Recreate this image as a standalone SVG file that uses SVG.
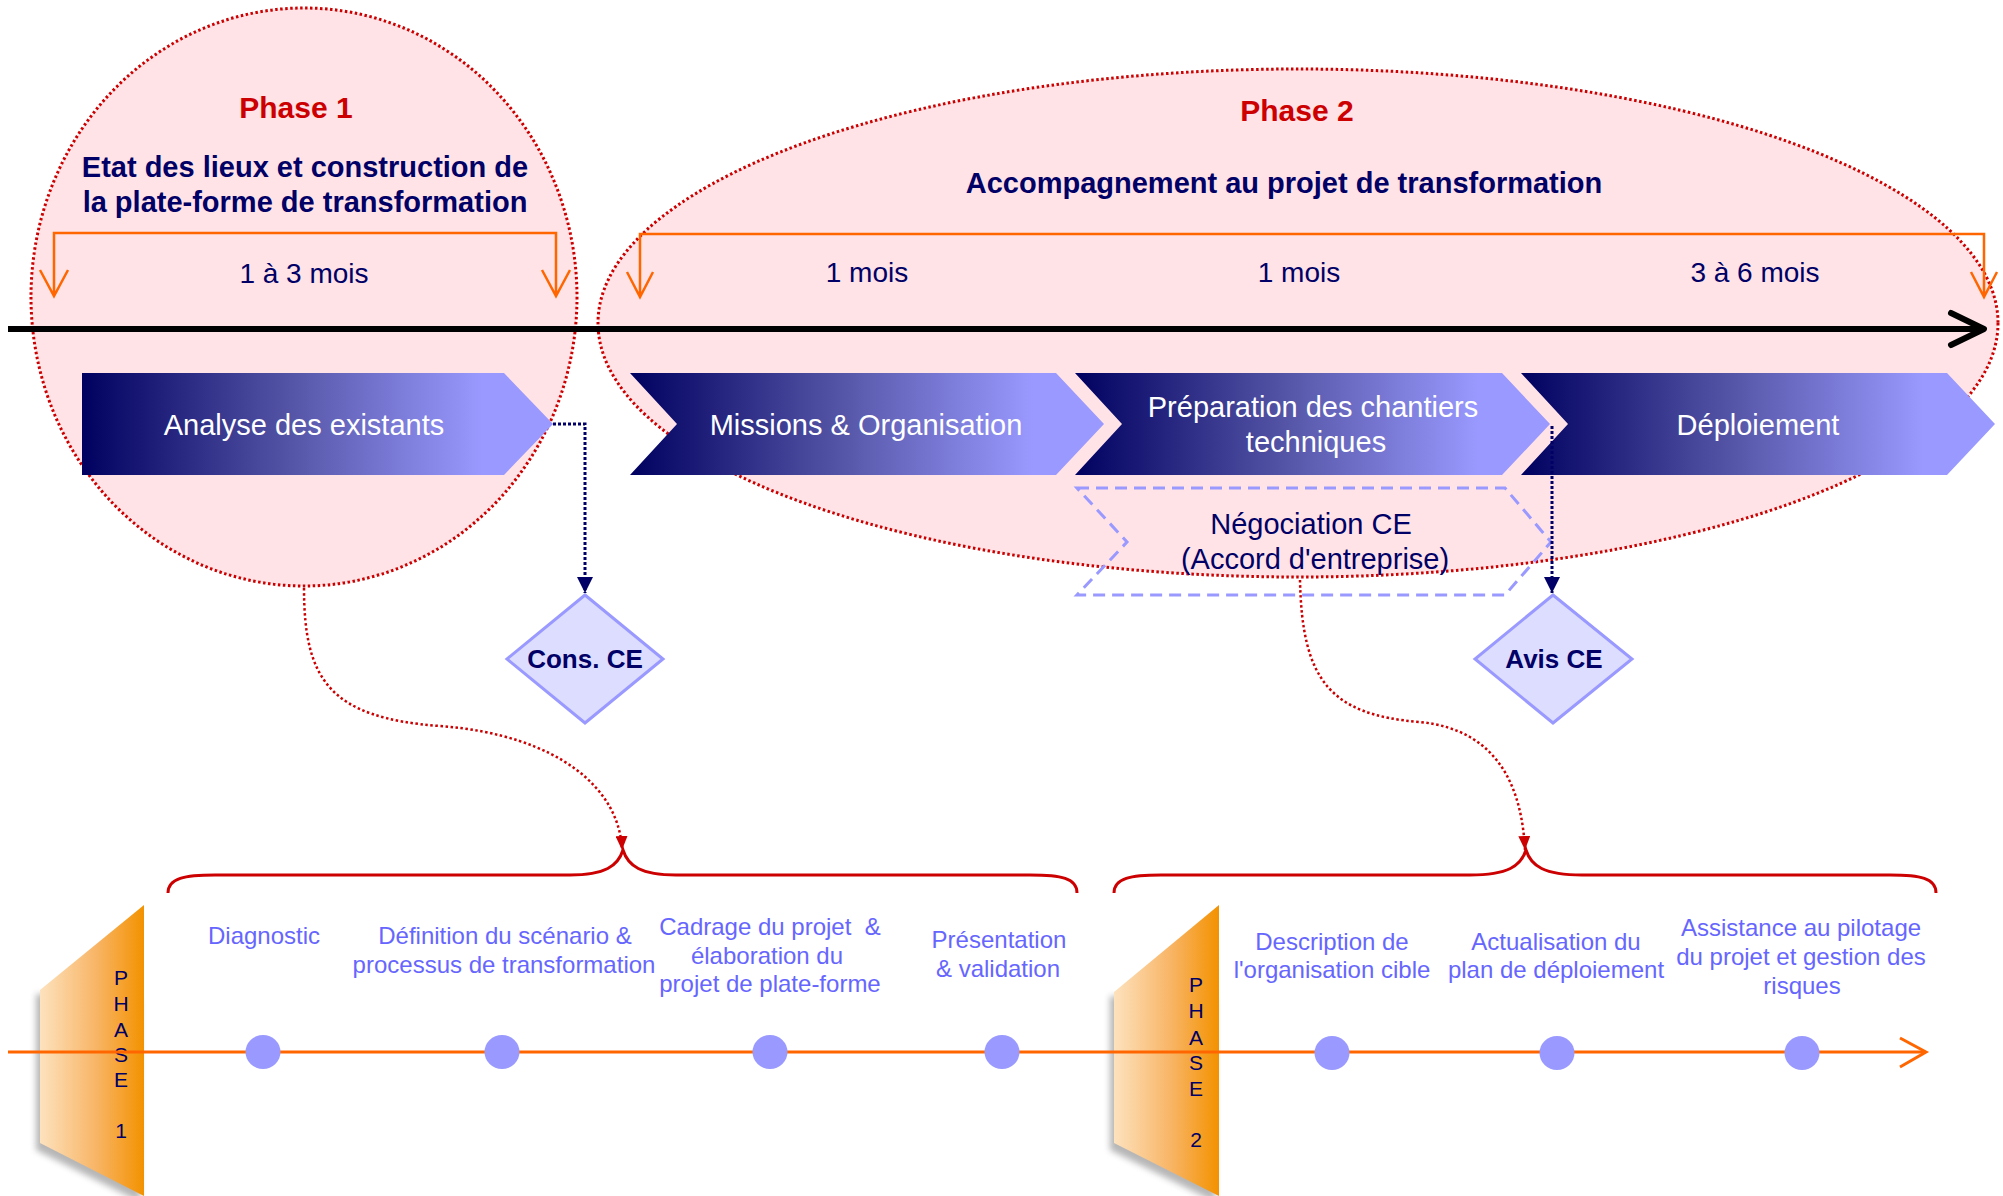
<svg xmlns="http://www.w3.org/2000/svg" width="2003" height="1196" viewBox="0 0 2003 1196">
  <defs>
    <style>
      .phase-zone { fill: #FFE3E6; stroke: #CC0000; stroke-width: 3; stroke-dasharray: 2.5 2.5; }
      .title-red { font-family: "Liberation Sans", Arial, sans-serif; font-weight: bold; font-size: 30px; fill: #CC0000; text-anchor: middle; }
      .title-navy { font-family: "Liberation Sans", Arial, sans-serif; font-weight: bold; font-size: 29px; fill: #000066; text-anchor: middle; }
      .duration { font-family: "Liberation Sans", Arial, sans-serif; font-size: 28px; fill: #000066; text-anchor: middle; }
      .bracket { fill: none; stroke: #FF6600; stroke-width: 2.5; }
      .step { fill: url(#stepGrad); }
      .step-label { font-family: "Liberation Sans", Arial, sans-serif; font-size: 29px; fill: #FFFFFF; text-anchor: middle; }
      .nego { fill: none; stroke: #9999FF; stroke-width: 3; stroke-dasharray: 12 7; }
      .nego-label { font-family: "Liberation Sans", Arial, sans-serif; font-size: 29px; fill: #000066; text-anchor: middle; }
      .decision { fill: #DDDDFF; stroke: #9999FF; stroke-width: 3; }
      .decision-label { font-family: "Liberation Sans", Arial, sans-serif; font-weight: bold; font-size: 26px; fill: #000066; text-anchor: middle; }
      .link-navy { fill: none; stroke: #000066; stroke-width: 3; stroke-dasharray: 3 2; }
      .link-red { fill: none; stroke: #CC0000; stroke-width: 2.5; stroke-dasharray: 2.5 2.5; }
      .brace { fill: none; stroke: #CC0000; stroke-width: 3; }
      .block { fill: url(#blockGrad); }
      .block-letter { font-family: "Liberation Sans", Arial, sans-serif; font-size: 21px; fill: #000066; text-anchor: middle; }
      .milestone { fill: #9999FF; }
      .milestone-label { font-family: "Liberation Sans", Arial, sans-serif; font-size: 24px; fill: #6666FF; text-anchor: middle; }
    </style>
    <linearGradient id="stepGrad" x1="0" y1="0" x2="1" y2="0">
      <stop offset="0" stop-color="#000060"/>
      <stop offset="0.45" stop-color="#5656A8"/>
      <stop offset="0.85" stop-color="#9999FF"/>
      <stop offset="1" stop-color="#9999FF"/>
    </linearGradient>
    <linearGradient id="blockGrad" x1="0" y1="0" x2="1" y2="0">
      <stop offset="0" stop-color="#FDE2BE"/>
      <stop offset="0.55" stop-color="#F8B464"/>
      <stop offset="1" stop-color="#F39200"/>
    </linearGradient>
    <filter id="softShadow" x="-20%" y="-20%" width="140%" height="140%">
      <feGaussianBlur stdDeviation="3"/>
    </filter>
    <marker id="navyHead" markerUnits="userSpaceOnUse" markerWidth="16" markerHeight="16" viewBox="0 0 16 16" refX="16" refY="8" orient="auto">
      <path d="M0,0 L16,8 L0,16 Z" fill="#000066"/>
    </marker>
    <marker id="redHead" markerUnits="userSpaceOnUse" markerWidth="14" markerHeight="12" viewBox="0 0 14 12" refX="14" refY="6" orient="auto">
      <path d="M0,0 L14,6 L0,12 Z" fill="#CC0000"/>
    </marker>
  </defs>

  <!-- phase zones -->
  <g id="phase1-zone">
    <ellipse class="phase-zone" cx="304" cy="297" rx="273" ry="289"/>
  </g>
  <g id="phase2-zone">
    <ellipse class="phase-zone" cx="1298" cy="323" rx="700" ry="254"/>
  </g>

  <!-- phase headings and durations -->
  <g id="phase1-heading">
    <text class="title-red" x="296" y="118">Phase 1</text>
    <text class="title-navy" x="305" y="177">Etat des lieux et construction de</text>
    <text class="title-navy" x="305" y="212">la plate-forme de transformation</text>
    <path class="bracket" d="M54,296 V233 H556 V296 M40,270 L54,296 L68,270 M542,270 L556,296 L570,270"/>
    <text class="duration" x="304" y="283">1 à 3 mois</text>
  </g>
  <g id="phase2-heading">
    <text class="title-red" x="1297" y="121">Phase 2</text>
    <text class="title-navy" x="1284" y="193">Accompagnement au projet de transformation</text>
    <path class="bracket" d="M640,297 V234 H1984 V297 M627,272 L640,297 L653,272 M1971,272 L1984,297 L1997,272"/>
    <text class="duration" x="867" y="282">1 mois</text>
    <text class="duration" x="1299" y="282">1 mois</text>
    <text class="duration" x="1755" y="282">3 à 6 mois</text>
  </g>

  <!-- main time axis -->
  <g id="time-axis">
    <line x1="8" y1="329" x2="1982" y2="329" stroke="#000000" stroke-width="6"/>
    <polyline points="1951,313 1984,329 1951,345" fill="none" stroke="#000000" stroke-width="6" stroke-linecap="round" stroke-linejoin="round"/>
  </g>

  <!-- process steps -->
  <g id="step-analyse">
    <polygon class="step" points="82,373 504,373 553,424 504,475 82,475"/>
    <text class="step-label" x="304" y="435">Analyse des existants</text>
  </g>
  <g id="step-missions">
    <polygon class="step" points="630,373 1056,373 1104,424 1056,475 630,475 677,424"/>
    <text class="step-label" x="866" y="435">Missions &amp; Organisation</text>
  </g>
  <g id="step-preparation">
    <polygon class="step" points="1075,373 1502,373 1550,424 1502,475 1075,475 1122,424"/>
    <text class="step-label" x="1313" y="417">Préparation des chantiers</text>
    <text class="step-label" x="1316" y="452">techniques</text>
  </g>
  <g id="step-deploiement">
    <polygon class="step" points="1521,373 1947,373 1995,424 1947,475 1521,475 1568,424"/>
    <text class="step-label" x="1758" y="435">Déploiement</text>
  </g>

  <!-- negotiation step (dashed outline) -->
  <g id="step-negociation">
    <polygon class="nego" points="1077,488 1505,488 1551,542 1505,595 1077,595 1127,542"/>
    <text class="nego-label" x="1311" y="534">Négociation CE</text>
    <text class="nego-label" x="1315" y="569">(Accord d'entreprise)</text>
  </g>

  <!-- works council decisions -->
  <g id="decision-cons">
    <polygon class="decision" points="585,595 663,659 585,723 507,659"/>
    <text class="decision-label" x="585" y="668">Cons. CE</text>
  </g>
  <g id="decision-avis">
    <polygon class="decision" points="1553,595 1632,659 1553,723 1475,659"/>
    <text class="decision-label" x="1554" y="668">Avis CE</text>
  </g>

  <!-- connectors -->
  <g id="connectors">
    <path class="link-navy" d="M553,424 H585 V593" marker-end="url(#navyHead)"/>
    <path class="link-navy" d="M1552,426 V593" marker-end="url(#navyHead)"/>
    <path class="link-red" d="M304,588 C304,680 330,718 440,726 C560,735 620,790 622,850" marker-end="url(#redHead)"/>
    <path class="link-red" d="M1300,580 C1302,680 1330,715 1420,722 C1500,730 1522,790 1525,850" marker-end="url(#redHead)"/>
  </g>

  <!-- braces -->
  <g id="brace-phase1">
    <path class="brace" d="M168,893 C168,878 185,875 215,875 L570,875 C605,875 618,866 623,850 C628,866 641,875 676,875 L1030,875 C1061,875 1077,878 1077,893"/>
  </g>
  <g id="brace-phase2">
    <path class="brace" d="M1114,893 C1114,878 1131,875 1161,875 L1470,875 C1508,875 1521,866 1526,850 C1531,866 1544,875 1582,875 L1890,875 C1920,875 1936,878 1936,893"/>
  </g>

  <!-- phase blocks on the lower axis -->
  <g id="block-phase1">
    <polygon points="36,994 36,1150 140,1202 140,1000" fill="#7A7A7A" opacity="0.55" filter="url(#softShadow)"/>
    <polygon class="block" points="144,905 40,990 40,1143 144,1196"/>
    <text class="block-letter" x="121" y="985">P</text>
    <text class="block-letter" x="121" y="1011">H</text>
    <text class="block-letter" x="121" y="1037">A</text>
    <text class="block-letter" x="121" y="1062">S</text>
    <text class="block-letter" x="121" y="1087">E</text>
    <text class="block-letter" x="121" y="1138">1</text>
  </g>
  <g id="block-phase2">
    <polygon points="1110,996 1110,1150 1215,1202 1215,1000" fill="#7A7A7A" opacity="0.55" filter="url(#softShadow)"/>
    <polygon class="block" points="1219,905 1114,992 1114,1143 1219,1196"/>
    <text class="block-letter" x="1196" y="992">P</text>
    <text class="block-letter" x="1196" y="1018">H</text>
    <text class="block-letter" x="1196" y="1045">A</text>
    <text class="block-letter" x="1196" y="1070">S</text>
    <text class="block-letter" x="1196" y="1096">E</text>
    <text class="block-letter" x="1196" y="1147">2</text>
  </g>

  <!-- lower axis -->
  <g id="activity-axis">
    <line x1="8" y1="1052" x2="1924" y2="1052" stroke="#FF6600" stroke-width="3"/>
    <polyline points="1900,1038 1926,1052 1900,1067" fill="none" stroke="#FF6600" stroke-width="3"/>
  </g>

  <!-- milestones -->
  <g id="ms-diagnostic">
    <ellipse class="milestone" cx="263" cy="1052" rx="17.5" ry="17"/>
    <text class="milestone-label" x="264" y="944">Diagnostic</text>
  </g>
  <g id="ms-definition">
    <ellipse class="milestone" cx="502" cy="1052" rx="17.5" ry="17"/>
    <text class="milestone-label" x="505" y="944">Définition du scénario &amp;</text>
    <text class="milestone-label" x="504" y="973">processus de transformation</text>
  </g>
  <g id="ms-cadrage">
    <ellipse class="milestone" cx="770" cy="1052" rx="17.5" ry="17"/>
    <text class="milestone-label" x="770" y="935" xml:space="preserve">Cadrage du projet  &amp;</text>
    <text class="milestone-label" x="767" y="964">élaboration du</text>
    <text class="milestone-label" x="770" y="992">projet de plate-forme</text>
  </g>
  <g id="ms-presentation">
    <ellipse class="milestone" cx="1002" cy="1052" rx="17.5" ry="17"/>
    <text class="milestone-label" x="999" y="948">Présentation</text>
    <text class="milestone-label" x="998" y="977">&amp; validation</text>
  </g>
  <g id="ms-description">
    <ellipse class="milestone" cx="1332" cy="1053" rx="17.5" ry="17"/>
    <text class="milestone-label" x="1332" y="950">Description de</text>
    <text class="milestone-label" x="1332" y="978">l'organisation cible</text>
  </g>
  <g id="ms-actualisation">
    <ellipse class="milestone" cx="1557" cy="1053" rx="17.5" ry="17"/>
    <text class="milestone-label" x="1556" y="950">Actualisation du</text>
    <text class="milestone-label" x="1556" y="978">plan de déploiement</text>
  </g>
  <g id="ms-assistance">
    <ellipse class="milestone" cx="1802" cy="1053" rx="17.5" ry="17"/>
    <text class="milestone-label" x="1801" y="936">Assistance au pilotage</text>
    <text class="milestone-label" x="1801" y="965">du projet et gestion des</text>
    <text class="milestone-label" x="1802" y="994">risques</text>
  </g>
</svg>
